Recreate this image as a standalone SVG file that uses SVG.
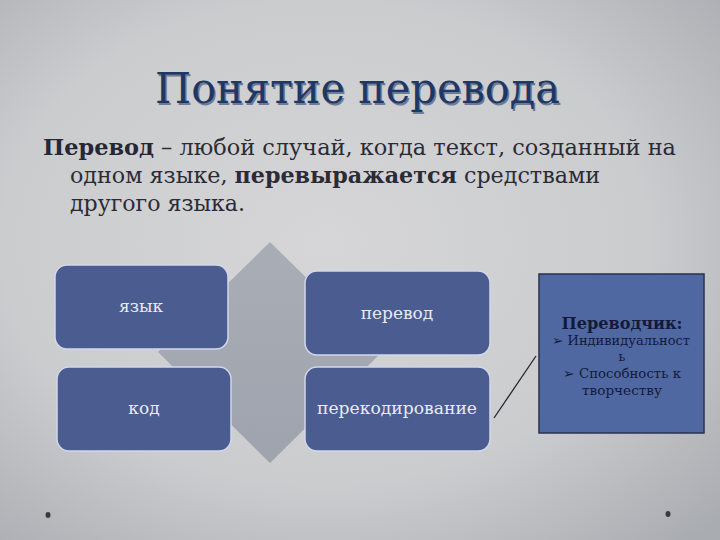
<svg xmlns="http://www.w3.org/2000/svg" width="720" height="540" viewBox="0 0 720 540">
<defs>
<radialGradient id="bg" cx="0.45" cy="0.45" r="0.75">
<stop offset="0" stop-color="#d6d6d8"/>
<stop offset="0.6" stop-color="#cbccce"/>
<stop offset="1" stop-color="#a9acb1"/>
</radialGradient>
<linearGradient id="dia" x1="0" y1="0" x2="0" y2="1">
<stop offset="0" stop-color="#a9adb6"/>
<stop offset="1" stop-color="#9ea3ad"/>
</linearGradient>
</defs>
<style>
.box{fill:#4b5c91;stroke:#d2d8ea;stroke-width:1.5}
.lbl{font-family:"DejaVu Serif",serif;font-size:17px;fill:#e9ebf2;text-anchor:middle}
.title{font-family:"DejaVu Serif",serif;font-size:42px;fill:#1f3765}
.body{font-family:"DejaVu Serif",serif;font-size:22px;fill:#2b2b35}
.side{font-family:"DejaVu Serif",serif;fill:#14193a;text-anchor:middle}
</style>
<rect width="720" height="540" fill="url(#bg)"/>
<text class="title" x="156.5" y="104.5" fill="#ffffff" opacity="0.55" textLength="405" lengthAdjust="spacingAndGlyphs">Понятие перевода</text>
<text class="title" x="155" y="103" textLength="405" lengthAdjust="spacingAndGlyphs">Понятие перевода</text>
<text class="body" x="43" y="155" textLength="633" lengthAdjust="spacingAndGlyphs"><tspan font-weight="bold" fill="#262636">Перевод</tspan> – любой случай, когда текст, созданный на</text>
<text class="body" x="70" y="183" textLength="530" lengthAdjust="spacingAndGlyphs">одном языке, <tspan font-weight="bold">перевыражается</tspan> средствами</text>
<text class="body" x="70" y="211" textLength="175" lengthAdjust="spacingAndGlyphs">другого языка.</text>
<polygon points="270,242 382,352 270,463 158,352" fill="url(#dia)"/>
<g id="node-yazyk"><rect class="box" x="55" y="265" width="173" height="84" rx="12"/><text class="lbl" x="141" y="312">язык</text></g>
<g id="node-perevod"><rect class="box" x="305" y="271" width="185" height="84" rx="12"/><text class="lbl" x="397" y="319">перевод</text></g>
<g id="node-kod"><rect class="box" x="57" y="367" width="174" height="84" rx="12"/><text class="lbl" x="144" y="414">код</text></g>
<g id="node-perekod"><rect class="box" x="305" y="367" width="185" height="84" rx="12"/><text class="lbl" x="397" y="414" textLength="160" lengthAdjust="spacingAndGlyphs">перекодирование</text></g>
<g id="node-perevodchik">
<rect x="539" y="274" width="165" height="159" fill="#5068a2" stroke="#283050" stroke-width="1.5"/>
<text class="side" x="622" y="329" font-size="16" font-weight="bold" textLength="121" lengthAdjust="spacingAndGlyphs">Переводчик:</text>
<text class="side" x="621" y="345" font-size="12.5" textLength="138" lengthAdjust="spacingAndGlyphs">➢ Индивидуальност</text>
<text class="side" x="622" y="361" font-size="12.5">ь</text>
<text class="side" x="622" y="378" font-size="12.5" textLength="118" lengthAdjust="spacingAndGlyphs">➢  Способность к</text>
<text class="side" x="622" y="395" font-size="12.5" textLength="80" lengthAdjust="spacingAndGlyphs">творчеству</text>
</g>
<g id="connectors">
<line x1="494" y1="418" x2="536" y2="356" stroke="#222428" stroke-width="1.3"/>
</g>
<ellipse cx="48" cy="515" rx="2.5" ry="3" fill="#3a3a3e"/>
<ellipse cx="668" cy="514" rx="2.5" ry="3" fill="#3a3a3e"/>
</svg>
